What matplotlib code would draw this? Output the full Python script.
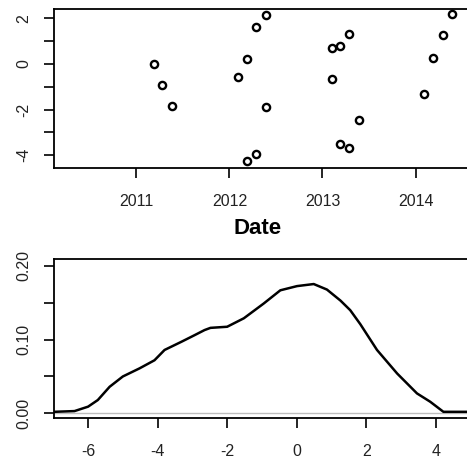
import matplotlib
matplotlib.use("Agg")
import matplotlib.pyplot as plt

plt.rcParams['font.family'] = ['Liberation Sans', 'DejaVu Sans']

# ---- data: top scatter (decimal year vs value)
dates = [2011.19, 2011.28, 2011.38,
         2012.09, 2012.19, 2012.19, 2012.29, 2012.29, 2012.39, 2012.39,
         2013.10, 2013.10, 2013.19, 2013.19, 2013.29, 2013.29, 2013.39,
         2014.09, 2014.19, 2014.29, 2014.39]
values = [0.00, -0.91, -1.84,
          -0.57, 0.21, -4.27, 1.61, -3.96, 2.14, -1.90,
          0.72, -0.67, 0.80, -3.50, 1.32, -3.67, -2.44,
          -1.33, 0.26, 1.26, 2.20]
year_ticks = [2011, 2012, 2013, 2014]
top_yticks = [-4, -3, -2, -1, 0, 1, 2]
top_ylabels = ['-4', '', '-2', '', '0', '', '2']

# ---- data: bottom density curve
dens_x = [-6.98, -6.39, -6.0, -5.72, -5.38, -5.0, -4.52, -4.09, -3.80, -3.32,
          -2.94, -2.65, -2.48, -2.0, -1.52, -0.95, -0.47, 0.01, 0.49, 0.87,
          1.26, 1.54, 1.83, 2.31, 2.89, 3.46, 3.84, 4.22, 5.6]
dens_y = [0.002, 0.003, 0.009, 0.018, 0.036, 0.050, 0.061, 0.072, 0.086, 0.097,
          0.106, 0.113, 0.116, 0.1175, 0.129, 0.149, 0.167, 0.1727, 0.1755, 0.168,
          0.153, 0.140, 0.121, 0.086, 0.054, 0.027, 0.0157, 0.002, 0.002]
dens_xticks = [-6, -4, -2, 0, 2, 4]
dens_yticks = [0.0, 0.05, 0.10, 0.15, 0.20]
dens_ylabels = ['0.00', '', '0.10', '', '0.20']

W, H = 467, 468
fig = plt.figure(figsize=(W / 100, H / 100), dpi=100)

def px_axes(left, top, right, bottom):
    return fig.add_axes([left / W, 1 - bottom / H, (right - left) / W, (bottom - top) / H])

tick_color = '#222222'

def style(ax):
    for s in ax.spines.values():
        s.set_linewidth(1.3)
        s.set_color('black')
    ax.tick_params(axis='both', length=7.5, width=1.2, color='black',
                   labelsize=11.5, labelcolor=tick_color)
    ax.tick_params(axis='x', pad=11)
    ax.tick_params(axis='y', pad=9)
    for lab in ax.get_yticklabels():
        lab.set_rotation(90)
        lab.set_va('center')

# top
ax1 = px_axes(54, 9, 490, 168)
ax1.plot(dates, values, linestyle='none', marker='o', markersize=5.2,
         markerfacecolor='none', markeredgecolor='black', markeredgewidth=1.7)
ax1.set_xlim(2010.115, 2014.80)
ax1.set_ylim(-4.56, 2.41)
ax1.set_xticks(year_ticks)
ax1.set_xticklabels([str(y) for y in year_ticks])
ax1.set_yticks(top_yticks)
ax1.set_yticklabels(top_ylabels)
style(ax1)
ax1.set_xlabel('Date', fontsize=16, fontweight='bold', color='black')
ax1.xaxis.set_label_coords((257.5 - 54) / (490 - 54), -(228 - 168) / (168 - 9))
ax1.xaxis.label.set_va('center')

# bottom
ax2 = px_axes(54, 259, 490, 418.3)
ax2.axhline(0, color='#bebebe', linewidth=1.0)
ax2.plot(dens_x, dens_y, color='black', linewidth=1.8)
ax2.set_xlim(-6.98, 5.56)
ax2.set_ylim(-0.0068, 0.2095)
ax2.set_xticks(dens_xticks)
ax2.set_xticklabels([str(t) for t in dens_xticks])
ax2.set_yticks(dens_yticks)
ax2.set_yticklabels(dens_ylabels)
style(ax2)

fig.savefig('out.png', dpi=100)
